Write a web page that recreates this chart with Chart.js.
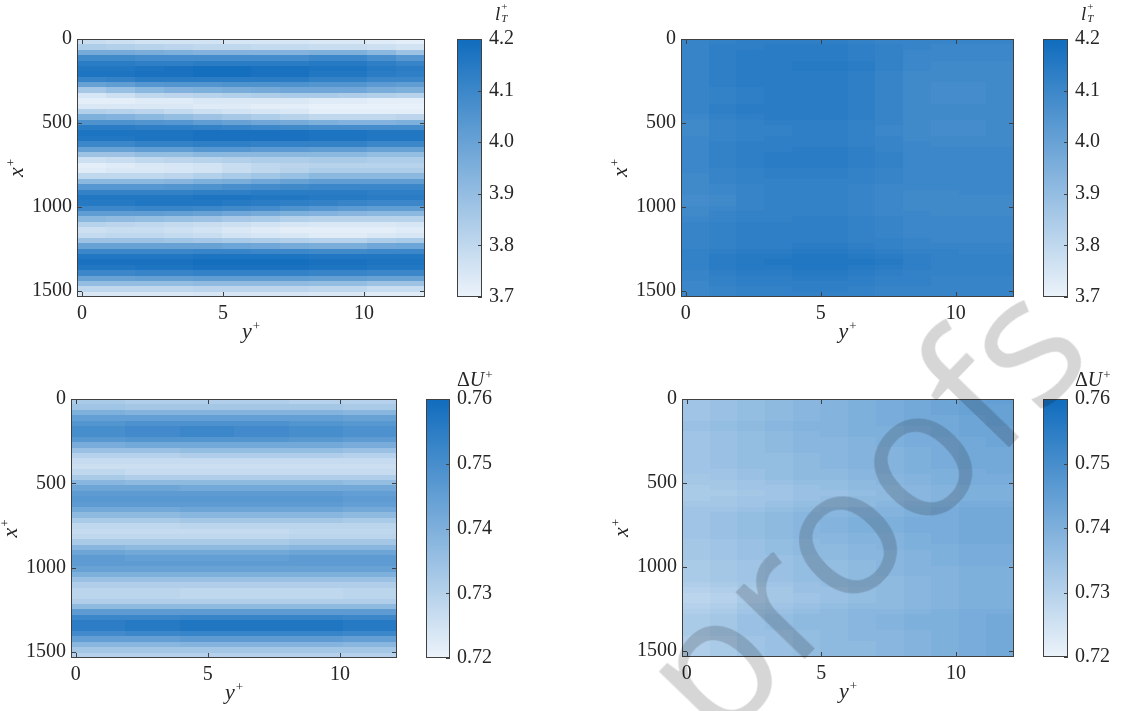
<!DOCTYPE html>
<html>
<head>
<meta charset="utf-8">
<script src="https://cdn.jsdelivr.net/npm/chart.js@4.4.0/dist/chart.umd.min.js"></script>
<style>
  body { margin: 0; background: #fff; width: 1147px; height: 711px; overflow: hidden; position: relative; }
  canvas { position: absolute; }
  #mark {
    position: absolute; left: 603px; top: 639px;
    transform-origin: 0 0; transform: rotate(-46deg);
    font-family: "Open Sans"; font-size: 180px; line-height: 1;
    color: rgba(0, 0, 0, 0.16); white-space: nowrap; pointer-events: none;
  }
</style>
</head>
<body>
<canvas id="heatA"></canvas><canvas id="barA"></canvas>
<canvas id="heatB"></canvas><canvas id="barB"></canvas>
<canvas id="heatC"></canvas><canvas id="barC"></canvas>
<canvas id="heatD"></canvas><canvas id="barD"></canvas>
<div id="mark">proofs</div>
<script>
// grid: cell centres along x+ (rows, top to bottom) and y+ (columns)
const xPlusRows = [16, 48, 80, 112, 144, 176, 208, 240, 272, 304, 336, 368, 400, 432, 464, 496,
    528, 560, 592, 624, 656, 688, 720, 752, 784, 816, 848, 880, 912, 944, 976, 1008,
    1040, 1072, 1104, 1136, 1168, 1200, 1232, 1264, 1296, 1328, 1360, 1392, 1424, 1456, 1488, 1520];
const yPlusCols = [0.33, 1.36, 2.39, 3.42, 4.45, 5.48, 6.51, 7.54, 8.57, 9.60, 10.62, 11.65];
const yPlusRange = [-0.18, 12.16];
const xPlusRange = [0, 1536];
const yPlusTicks = [0, 5, 10];
const xPlusTicks = [0, 500, 1000, 1500];
const ltTicks = [3.7, 3.8, 3.9, 4.0, 4.1, 4.2];
const duTicks = [0.72, 0.73, 0.74, 0.75, 0.76];

// l_T^+ , left case (strong streaks)
const ltCaseA = [
    [3.78, 3.77, 3.76, 3.76, 3.76, 3.75, 3.75, 3.75, 3.74, 3.74, 3.73, 3.72],
    [3.84, 3.83, 3.82, 3.81, 3.80, 3.80, 3.79, 3.79, 3.78, 3.78, 3.77, 3.76],
    [3.97, 3.97, 3.96, 3.95, 3.94, 3.94, 3.94, 3.94, 3.95, 3.95, 3.92, 3.88],
    [4.09, 4.09, 4.08, 4.08, 4.08, 4.08, 4.08, 4.08, 4.10, 4.10, 4.07, 4.04],
    [4.14, 4.14, 4.13, 4.13, 4.14, 4.14, 4.14, 4.14, 4.15, 4.15, 4.13, 4.11],
    [4.16, 4.16, 4.17, 4.18, 4.19, 4.19, 4.18, 4.18, 4.17, 4.17, 4.15, 4.14],
    [4.17, 4.17, 4.18, 4.18, 4.19, 4.19, 4.18, 4.18, 4.16, 4.16, 4.14, 4.13],
    [4.11, 4.12, 4.14, 4.14, 4.14, 4.14, 4.14, 4.14, 4.12, 4.12, 4.10, 4.10],
    [4.00, 4.02, 4.04, 4.05, 4.05, 4.06, 4.06, 4.06, 4.05, 4.05, 4.03, 4.02],
    [3.86, 3.89, 3.92, 3.94, 3.95, 3.96, 3.97, 3.98, 3.98, 3.98, 3.96, 3.95],
    [3.75, 3.77, 3.80, 3.81, 3.82, 3.83, 3.84, 3.85, 3.85, 3.84, 3.83, 3.82],
    [3.72, 3.72, 3.73, 3.73, 3.74, 3.74, 3.74, 3.74, 3.73, 3.73, 3.72, 3.72],
    [3.74, 3.74, 3.74, 3.74, 3.73, 3.73, 3.72, 3.72, 3.71, 3.71, 3.71, 3.71],
    [3.83, 3.82, 3.81, 3.79, 3.77, 3.76, 3.75, 3.74, 3.72, 3.72, 3.72, 3.72],
    [3.95, 3.94, 3.92, 3.90, 3.88, 3.86, 3.84, 3.82, 3.80, 3.80, 3.80, 3.81],
    [4.06, 4.06, 4.05, 4.04, 4.02, 4.00, 3.98, 3.97, 3.95, 3.94, 3.94, 3.95],
    [4.14, 4.14, 4.13, 4.13, 4.12, 4.11, 4.10, 4.09, 4.08, 4.08, 4.08, 4.08],
    [4.17, 4.17, 4.17, 4.17, 4.18, 4.18, 4.18, 4.18, 4.17, 4.17, 4.16, 4.16],
    [4.16, 4.16, 4.17, 4.17, 4.18, 4.18, 4.18, 4.18, 4.17, 4.17, 4.16, 4.16],
    [4.10, 4.10, 4.12, 4.12, 4.13, 4.13, 4.12, 4.12, 4.12, 4.12, 4.10, 4.10],
    [4.00, 4.00, 4.02, 4.02, 4.04, 4.04, 4.03, 4.03, 4.02, 4.02, 4.00, 4.00],
    [3.88, 3.88, 3.90, 3.90, 3.92, 3.92, 3.92, 3.92, 3.92, 3.92, 3.90, 3.90],
    [3.77, 3.78, 3.80, 3.81, 3.82, 3.83, 3.84, 3.84, 3.85, 3.85, 3.84, 3.84],
    [3.72, 3.73, 3.74, 3.75, 3.76, 3.78, 3.80, 3.81, 3.82, 3.82, 3.82, 3.82],
    [3.73, 3.74, 3.74, 3.75, 3.76, 3.78, 3.80, 3.82, 3.84, 3.84, 3.84, 3.84],
    [3.80, 3.80, 3.80, 3.81, 3.83, 3.85, 3.87, 3.89, 3.92, 3.92, 3.92, 3.92],
    [3.92, 3.92, 3.92, 3.93, 3.95, 3.96, 3.98, 4.00, 4.02, 4.02, 4.02, 4.02],
    [4.04, 4.04, 4.04, 4.05, 4.06, 4.07, 4.08, 4.09, 4.10, 4.10, 4.10, 4.10],
    [4.12, 4.12, 4.12, 4.12, 4.13, 4.13, 4.14, 4.14, 4.14, 4.14, 4.13, 4.13],
    [4.16, 4.16, 4.16, 4.16, 4.17, 4.17, 4.16, 4.16, 4.15, 4.15, 4.14, 4.14],
    [4.15, 4.15, 4.16, 4.16, 4.16, 4.15, 4.14, 4.13, 4.12, 4.11, 4.10, 4.10],
    [4.10, 4.10, 4.11, 4.11, 4.10, 4.09, 4.08, 4.06, 4.04, 4.03, 4.02, 4.02],
    [4.02, 4.02, 4.02, 4.01, 4.00, 3.98, 3.97, 3.95, 3.94, 3.93, 3.92, 3.92],
    [3.92, 3.91, 3.90, 3.89, 3.88, 3.86, 3.85, 3.83, 3.82, 3.82, 3.82, 3.82],
    [3.82, 3.81, 3.80, 3.79, 3.78, 3.77, 3.76, 3.75, 3.74, 3.74, 3.74, 3.75],
    [3.77, 3.78, 3.78, 3.77, 3.76, 3.74, 3.73, 3.72, 3.72, 3.72, 3.72, 3.73],
    [3.79, 3.80, 3.80, 3.79, 3.78, 3.76, 3.75, 3.74, 3.73, 3.73, 3.74, 3.75],
    [3.88, 3.88, 3.88, 3.87, 3.86, 3.85, 3.84, 3.83, 3.82, 3.82, 3.84, 3.85],
    [4.00, 4.00, 4.00, 4.00, 4.00, 3.99, 3.98, 3.97, 3.96, 3.96, 3.98, 3.99],
    [4.10, 4.10, 4.10, 4.10, 4.11, 4.11, 4.10, 4.10, 4.09, 4.09, 4.10, 4.10],
    [4.16, 4.16, 4.16, 4.16, 4.17, 4.17, 4.17, 4.17, 4.16, 4.16, 4.16, 4.16],
    [4.18, 4.18, 4.18, 4.18, 4.19, 4.19, 4.19, 4.19, 4.18, 4.18, 4.17, 4.17],
    [4.16, 4.16, 4.17, 4.17, 4.18, 4.18, 4.18, 4.18, 4.17, 4.17, 4.16, 4.16],
    [4.10, 4.10, 4.11, 4.11, 4.12, 4.12, 4.12, 4.12, 4.11, 4.11, 4.10, 4.10],
    [4.00, 4.00, 4.01, 4.01, 4.02, 4.02, 4.02, 4.02, 4.01, 4.01, 4.00, 4.00],
    [3.90, 3.90, 3.90, 3.90, 3.91, 3.91, 3.91, 3.91, 3.90, 3.90, 3.88, 3.88],
    [3.80, 3.80, 3.80, 3.80, 3.81, 3.81, 3.81, 3.81, 3.80, 3.80, 3.78, 3.78],
    [3.74, 3.74, 3.74, 3.74, 3.75, 3.75, 3.75, 3.75, 3.74, 3.74, 3.73, 3.73]
];

// l_T^+ , right case (nearly uniform)
const ltCaseB = [
    [4.11, 4.12, 4.13, 4.13, 4.13, 4.13, 4.12, 4.11, 4.11, 4.11, 4.11, 4.11],
    [4.11, 4.13, 4.13, 4.14, 4.14, 4.14, 4.13, 4.12, 4.11, 4.10, 4.10, 4.10],
    [4.11, 4.13, 4.14, 4.14, 4.14, 4.14, 4.13, 4.12, 4.10, 4.10, 4.10, 4.10],
    [4.11, 4.13, 4.14, 4.14, 4.14, 4.14, 4.13, 4.12, 4.10, 4.10, 4.10, 4.10],
    [4.11, 4.13, 4.14, 4.14, 4.15, 4.15, 4.14, 4.12, 4.10, 4.09, 4.09, 4.09],
    [4.11, 4.13, 4.14, 4.14, 4.15, 4.15, 4.14, 4.12, 4.10, 4.09, 4.09, 4.09],
    [4.11, 4.13, 4.14, 4.14, 4.14, 4.14, 4.13, 4.11, 4.09, 4.09, 4.09, 4.09],
    [4.11, 4.13, 4.14, 4.14, 4.14, 4.14, 4.13, 4.11, 4.09, 4.09, 4.09, 4.09],
    [4.11, 4.13, 4.14, 4.14, 4.14, 4.14, 4.13, 4.11, 4.09, 4.08, 4.08, 4.09],
    [4.11, 4.12, 4.13, 4.14, 4.14, 4.14, 4.13, 4.11, 4.09, 4.08, 4.08, 4.09],
    [4.11, 4.12, 4.13, 4.14, 4.14, 4.14, 4.13, 4.11, 4.09, 4.08, 4.08, 4.09],
    [4.11, 4.12, 4.13, 4.14, 4.14, 4.14, 4.13, 4.11, 4.09, 4.08, 4.08, 4.09],
    [4.11, 4.13, 4.14, 4.14, 4.14, 4.14, 4.13, 4.11, 4.09, 4.09, 4.09, 4.09],
    [4.11, 4.13, 4.14, 4.14, 4.14, 4.14, 4.13, 4.11, 4.09, 4.09, 4.09, 4.09],
    [4.10, 4.12, 4.13, 4.14, 4.14, 4.14, 4.13, 4.11, 4.09, 4.09, 4.09, 4.09],
    [4.09, 4.11, 4.12, 4.13, 4.13, 4.13, 4.12, 4.11, 4.09, 4.08, 4.08, 4.09],
    [4.09, 4.11, 4.12, 4.12, 4.13, 4.13, 4.12, 4.10, 4.09, 4.08, 4.08, 4.09],
    [4.09, 4.11, 4.12, 4.12, 4.13, 4.13, 4.12, 4.10, 4.09, 4.08, 4.08, 4.09],
    [4.10, 4.11, 4.12, 4.13, 4.13, 4.13, 4.12, 4.11, 4.09, 4.09, 4.09, 4.09],
    [4.10, 4.12, 4.13, 4.13, 4.13, 4.13, 4.12, 4.11, 4.10, 4.09, 4.09, 4.09],
    [4.10, 4.12, 4.13, 4.13, 4.14, 4.14, 4.13, 4.11, 4.10, 4.10, 4.10, 4.10],
    [4.10, 4.12, 4.13, 4.14, 4.14, 4.14, 4.13, 4.12, 4.10, 4.10, 4.10, 4.10],
    [4.10, 4.12, 4.13, 4.14, 4.14, 4.14, 4.13, 4.12, 4.10, 4.10, 4.10, 4.10],
    [4.10, 4.12, 4.13, 4.14, 4.14, 4.14, 4.13, 4.12, 4.10, 4.10, 4.10, 4.10],
    [4.10, 4.11, 4.12, 4.13, 4.13, 4.13, 4.12, 4.11, 4.10, 4.10, 4.10, 4.10],
    [4.09, 4.11, 4.12, 4.13, 4.13, 4.13, 4.12, 4.11, 4.10, 4.10, 4.10, 4.10],
    [4.09, 4.11, 4.12, 4.12, 4.12, 4.12, 4.12, 4.11, 4.10, 4.10, 4.10, 4.10],
    [4.09, 4.10, 4.11, 4.12, 4.12, 4.12, 4.11, 4.10, 4.10, 4.10, 4.10, 4.10],
    [4.09, 4.10, 4.11, 4.12, 4.12, 4.12, 4.11, 4.10, 4.09, 4.09, 4.10, 4.10],
    [4.08, 4.09, 4.11, 4.12, 4.12, 4.12, 4.11, 4.10, 4.09, 4.09, 4.09, 4.09],
    [4.08, 4.09, 4.11, 4.12, 4.12, 4.12, 4.11, 4.10, 4.09, 4.09, 4.09, 4.09],
    [4.09, 4.10, 4.11, 4.12, 4.12, 4.12, 4.11, 4.10, 4.09, 4.09, 4.09, 4.09],
    [4.09, 4.11, 4.12, 4.12, 4.12, 4.12, 4.11, 4.10, 4.10, 4.09, 4.09, 4.09],
    [4.10, 4.11, 4.12, 4.12, 4.13, 4.13, 4.12, 4.11, 4.10, 4.10, 4.10, 4.10],
    [4.11, 4.12, 4.13, 4.13, 4.13, 4.13, 4.12, 4.11, 4.10, 4.10, 4.10, 4.10],
    [4.11, 4.12, 4.13, 4.13, 4.13, 4.13, 4.12, 4.11, 4.10, 4.10, 4.10, 4.10],
    [4.11, 4.12, 4.13, 4.13, 4.13, 4.13, 4.12, 4.11, 4.10, 4.10, 4.10, 4.10],
    [4.11, 4.12, 4.13, 4.13, 4.13, 4.13, 4.12, 4.12, 4.11, 4.10, 4.10, 4.10],
    [4.11, 4.12, 4.13, 4.13, 4.14, 4.14, 4.13, 4.12, 4.11, 4.11, 4.11, 4.11],
    [4.12, 4.13, 4.14, 4.14, 4.15, 4.15, 4.14, 4.13, 4.12, 4.12, 4.11, 4.11],
    [4.12, 4.14, 4.15, 4.15, 4.16, 4.16, 4.15, 4.14, 4.13, 4.12, 4.12, 4.12],
    [4.12, 4.14, 4.15, 4.16, 4.16, 4.16, 4.16, 4.15, 4.13, 4.12, 4.12, 4.12],
    [4.12, 4.14, 4.15, 4.15, 4.16, 4.16, 4.15, 4.14, 4.13, 4.12, 4.12, 4.12],
    [4.11, 4.13, 4.14, 4.14, 4.15, 4.15, 4.14, 4.13, 4.12, 4.12, 4.12, 4.12],
    [4.11, 4.12, 4.13, 4.13, 4.14, 4.14, 4.13, 4.12, 4.12, 4.11, 4.11, 4.11],
    [4.10, 4.12, 4.13, 4.13, 4.13, 4.13, 4.13, 4.12, 4.12, 4.11, 4.11, 4.11],
    [4.10, 4.11, 4.12, 4.12, 4.13, 4.13, 4.12, 4.11, 4.11, 4.11, 4.11, 4.11],
    [4.10, 4.11, 4.12, 4.12, 4.12, 4.12, 4.12, 4.11, 4.11, 4.11, 4.11, 4.11]
];

// Delta U^+ , left case
const duCaseA = [
    [0.732, 0.732, 0.731, 0.731, 0.731, 0.731, 0.731, 0.731, 0.730, 0.730, 0.730, 0.730],
    [0.734, 0.734, 0.733, 0.733, 0.733, 0.733, 0.733, 0.733, 0.733, 0.733, 0.732, 0.732],
    [0.740, 0.740, 0.739, 0.739, 0.739, 0.739, 0.739, 0.739, 0.739, 0.739, 0.738, 0.738],
    [0.745, 0.745, 0.745, 0.745, 0.745, 0.745, 0.745, 0.745, 0.745, 0.745, 0.744, 0.744],
    [0.748, 0.748, 0.749, 0.749, 0.749, 0.749, 0.749, 0.749, 0.748, 0.748, 0.747, 0.747],
    [0.750, 0.750, 0.751, 0.751, 0.752, 0.752, 0.751, 0.751, 0.750, 0.750, 0.749, 0.749],
    [0.750, 0.750, 0.751, 0.751, 0.752, 0.752, 0.751, 0.751, 0.750, 0.750, 0.749, 0.749],
    [0.747, 0.747, 0.748, 0.748, 0.748, 0.748, 0.748, 0.748, 0.747, 0.747, 0.746, 0.746],
    [0.741, 0.741, 0.742, 0.742, 0.742, 0.742, 0.742, 0.742, 0.742, 0.742, 0.741, 0.741],
    [0.735, 0.735, 0.735, 0.735, 0.736, 0.736, 0.736, 0.736, 0.736, 0.736, 0.735, 0.735],
    [0.730, 0.730, 0.730, 0.730, 0.731, 0.731, 0.731, 0.731, 0.731, 0.731, 0.730, 0.730],
    [0.727, 0.727, 0.727, 0.727, 0.727, 0.727, 0.727, 0.727, 0.727, 0.727, 0.727, 0.727],
    [0.726, 0.726, 0.726, 0.726, 0.726, 0.726, 0.726, 0.726, 0.726, 0.726, 0.726, 0.726],
    [0.728, 0.728, 0.727, 0.727, 0.727, 0.727, 0.727, 0.727, 0.727, 0.727, 0.727, 0.727],
    [0.732, 0.732, 0.731, 0.731, 0.731, 0.731, 0.731, 0.731, 0.731, 0.731, 0.731, 0.731],
    [0.738, 0.738, 0.737, 0.737, 0.737, 0.737, 0.737, 0.737, 0.737, 0.737, 0.736, 0.736],
    [0.743, 0.743, 0.743, 0.743, 0.742, 0.742, 0.742, 0.742, 0.742, 0.742, 0.742, 0.742],
    [0.746, 0.746, 0.746, 0.746, 0.746, 0.746, 0.746, 0.746, 0.746, 0.746, 0.745, 0.745],
    [0.747, 0.747, 0.747, 0.747, 0.747, 0.747, 0.747, 0.747, 0.747, 0.747, 0.746, 0.746],
    [0.746, 0.746, 0.746, 0.746, 0.746, 0.746, 0.746, 0.746, 0.746, 0.746, 0.745, 0.745],
    [0.742, 0.742, 0.742, 0.742, 0.743, 0.743, 0.743, 0.743, 0.743, 0.743, 0.742, 0.742],
    [0.737, 0.737, 0.737, 0.737, 0.738, 0.738, 0.738, 0.738, 0.738, 0.738, 0.737, 0.737],
    [0.732, 0.732, 0.732, 0.732, 0.733, 0.733, 0.733, 0.733, 0.733, 0.733, 0.732, 0.732],
    [0.728, 0.728, 0.728, 0.728, 0.729, 0.729, 0.729, 0.729, 0.729, 0.729, 0.729, 0.729],
    [0.727, 0.727, 0.727, 0.727, 0.727, 0.727, 0.727, 0.727, 0.728, 0.728, 0.728, 0.728],
    [0.728, 0.728, 0.728, 0.728, 0.728, 0.728, 0.728, 0.728, 0.729, 0.729, 0.729, 0.729],
    [0.732, 0.732, 0.732, 0.732, 0.732, 0.732, 0.732, 0.732, 0.733, 0.733, 0.733, 0.733],
    [0.738, 0.738, 0.737, 0.737, 0.737, 0.737, 0.737, 0.737, 0.738, 0.738, 0.738, 0.738],
    [0.743, 0.743, 0.742, 0.742, 0.742, 0.742, 0.742, 0.742, 0.743, 0.743, 0.743, 0.743],
    [0.746, 0.746, 0.745, 0.745, 0.745, 0.745, 0.745, 0.745, 0.746, 0.746, 0.746, 0.746],
    [0.746, 0.746, 0.746, 0.746, 0.746, 0.746, 0.746, 0.746, 0.746, 0.746, 0.746, 0.746],
    [0.744, 0.744, 0.744, 0.744, 0.744, 0.744, 0.744, 0.744, 0.744, 0.744, 0.744, 0.744],
    [0.740, 0.740, 0.740, 0.740, 0.740, 0.740, 0.740, 0.740, 0.740, 0.740, 0.740, 0.740],
    [0.735, 0.735, 0.735, 0.735, 0.735, 0.735, 0.735, 0.735, 0.735, 0.735, 0.735, 0.735],
    [0.731, 0.731, 0.731, 0.731, 0.731, 0.731, 0.731, 0.731, 0.731, 0.731, 0.731, 0.731],
    [0.729, 0.729, 0.729, 0.729, 0.728, 0.728, 0.728, 0.728, 0.728, 0.728, 0.729, 0.729],
    [0.729, 0.729, 0.729, 0.729, 0.728, 0.728, 0.728, 0.728, 0.728, 0.728, 0.729, 0.729],
    [0.731, 0.731, 0.731, 0.731, 0.731, 0.731, 0.731, 0.731, 0.731, 0.731, 0.731, 0.731],
    [0.737, 0.737, 0.737, 0.737, 0.737, 0.737, 0.737, 0.737, 0.737, 0.737, 0.737, 0.737],
    [0.746, 0.746, 0.746, 0.746, 0.746, 0.746, 0.746, 0.746, 0.746, 0.746, 0.746, 0.746],
    [0.752, 0.752, 0.752, 0.752, 0.753, 0.753, 0.753, 0.753, 0.753, 0.753, 0.752, 0.752],
    [0.755, 0.755, 0.756, 0.756, 0.757, 0.757, 0.757, 0.757, 0.757, 0.757, 0.756, 0.756],
    [0.755, 0.755, 0.756, 0.756, 0.757, 0.757, 0.757, 0.757, 0.757, 0.757, 0.756, 0.756],
    [0.751, 0.751, 0.752, 0.752, 0.753, 0.753, 0.753, 0.753, 0.753, 0.753, 0.752, 0.752],
    [0.745, 0.745, 0.745, 0.745, 0.746, 0.746, 0.746, 0.746, 0.746, 0.746, 0.745, 0.745],
    [0.738, 0.738, 0.738, 0.738, 0.739, 0.739, 0.739, 0.739, 0.739, 0.739, 0.738, 0.738],
    [0.733, 0.733, 0.733, 0.733, 0.733, 0.733, 0.733, 0.733, 0.733, 0.733, 0.733, 0.733],
    [0.730, 0.730, 0.730, 0.730, 0.730, 0.730, 0.730, 0.730, 0.730, 0.730, 0.730, 0.730]
];

// Delta U^+ , right case
const duCaseB = [
    [0.734, 0.735, 0.736, 0.737, 0.738, 0.739, 0.740, 0.741, 0.742, 0.743, 0.744, 0.745],
    [0.734, 0.735, 0.736, 0.737, 0.738, 0.739, 0.740, 0.741, 0.742, 0.743, 0.744, 0.744],
    [0.734, 0.735, 0.736, 0.737, 0.738, 0.739, 0.740, 0.741, 0.742, 0.743, 0.744, 0.744],
    [0.734, 0.735, 0.736, 0.737, 0.738, 0.739, 0.740, 0.741, 0.742, 0.742, 0.743, 0.744],
    [0.735, 0.736, 0.737, 0.738, 0.739, 0.739, 0.740, 0.741, 0.742, 0.742, 0.743, 0.744],
    [0.735, 0.736, 0.737, 0.738, 0.739, 0.739, 0.740, 0.740, 0.741, 0.742, 0.743, 0.743],
    [0.734, 0.735, 0.736, 0.737, 0.738, 0.739, 0.740, 0.740, 0.741, 0.742, 0.743, 0.743],
    [0.734, 0.735, 0.736, 0.737, 0.738, 0.738, 0.739, 0.740, 0.741, 0.741, 0.742, 0.743],
    [0.734, 0.735, 0.736, 0.737, 0.738, 0.738, 0.739, 0.740, 0.741, 0.741, 0.742, 0.743],
    [0.734, 0.735, 0.736, 0.737, 0.738, 0.738, 0.739, 0.739, 0.740, 0.741, 0.742, 0.742],
    [0.734, 0.735, 0.736, 0.736, 0.737, 0.738, 0.739, 0.739, 0.740, 0.741, 0.742, 0.742],
    [0.734, 0.735, 0.736, 0.736, 0.737, 0.738, 0.739, 0.739, 0.740, 0.741, 0.742, 0.742],
    [0.734, 0.735, 0.736, 0.736, 0.737, 0.738, 0.739, 0.739, 0.740, 0.741, 0.742, 0.742],
    [0.734, 0.734, 0.735, 0.736, 0.737, 0.737, 0.738, 0.739, 0.740, 0.740, 0.741, 0.742],
    [0.733, 0.734, 0.735, 0.736, 0.737, 0.737, 0.738, 0.738, 0.739, 0.740, 0.741, 0.741],
    [0.733, 0.733, 0.734, 0.735, 0.736, 0.736, 0.737, 0.738, 0.739, 0.740, 0.741, 0.741],
    [0.732, 0.733, 0.734, 0.734, 0.735, 0.736, 0.737, 0.737, 0.738, 0.739, 0.740, 0.740],
    [0.732, 0.732, 0.733, 0.734, 0.735, 0.735, 0.736, 0.737, 0.738, 0.739, 0.740, 0.740],
    [0.732, 0.733, 0.734, 0.734, 0.735, 0.736, 0.737, 0.737, 0.738, 0.739, 0.740, 0.740],
    [0.733, 0.733, 0.734, 0.735, 0.736, 0.736, 0.737, 0.738, 0.739, 0.740, 0.741, 0.741],
    [0.734, 0.734, 0.735, 0.736, 0.737, 0.738, 0.739, 0.739, 0.740, 0.741, 0.742, 0.742],
    [0.734, 0.735, 0.736, 0.737, 0.738, 0.738, 0.739, 0.739, 0.740, 0.741, 0.742, 0.742],
    [0.734, 0.735, 0.736, 0.737, 0.738, 0.739, 0.740, 0.740, 0.741, 0.741, 0.742, 0.742],
    [0.734, 0.735, 0.736, 0.737, 0.738, 0.739, 0.740, 0.740, 0.741, 0.741, 0.742, 0.742],
    [0.734, 0.735, 0.736, 0.737, 0.738, 0.739, 0.740, 0.740, 0.741, 0.741, 0.742, 0.742],
    [0.734, 0.735, 0.736, 0.737, 0.738, 0.738, 0.739, 0.739, 0.740, 0.741, 0.742, 0.742],
    [0.733, 0.734, 0.735, 0.736, 0.737, 0.738, 0.739, 0.739, 0.740, 0.741, 0.742, 0.742],
    [0.733, 0.734, 0.735, 0.736, 0.737, 0.737, 0.738, 0.739, 0.740, 0.740, 0.741, 0.741],
    [0.733, 0.734, 0.735, 0.736, 0.737, 0.737, 0.738, 0.738, 0.739, 0.740, 0.741, 0.741],
    [0.733, 0.734, 0.735, 0.735, 0.736, 0.737, 0.738, 0.738, 0.739, 0.740, 0.741, 0.741],
    [0.732, 0.733, 0.734, 0.735, 0.736, 0.736, 0.737, 0.738, 0.739, 0.740, 0.741, 0.741],
    [0.732, 0.733, 0.734, 0.735, 0.736, 0.736, 0.737, 0.738, 0.739, 0.739, 0.740, 0.740],
    [0.732, 0.733, 0.734, 0.735, 0.736, 0.736, 0.737, 0.738, 0.739, 0.739, 0.740, 0.740],
    [0.732, 0.733, 0.734, 0.735, 0.736, 0.736, 0.737, 0.737, 0.738, 0.739, 0.740, 0.740],
    [0.731, 0.732, 0.733, 0.734, 0.735, 0.736, 0.737, 0.737, 0.738, 0.739, 0.740, 0.740],
    [0.730, 0.731, 0.732, 0.733, 0.735, 0.735, 0.736, 0.737, 0.738, 0.739, 0.740, 0.740],
    [0.729, 0.730, 0.732, 0.733, 0.734, 0.735, 0.736, 0.737, 0.738, 0.739, 0.740, 0.740],
    [0.729, 0.730, 0.732, 0.733, 0.734, 0.735, 0.736, 0.737, 0.738, 0.739, 0.740, 0.740],
    [0.730, 0.731, 0.733, 0.734, 0.735, 0.736, 0.737, 0.737, 0.738, 0.739, 0.740, 0.740],
    [0.731, 0.732, 0.734, 0.735, 0.736, 0.737, 0.738, 0.738, 0.739, 0.740, 0.741, 0.741],
    [0.732, 0.733, 0.735, 0.736, 0.737, 0.737, 0.738, 0.739, 0.740, 0.740, 0.741, 0.742],
    [0.732, 0.733, 0.735, 0.736, 0.737, 0.737, 0.738, 0.739, 0.740, 0.740, 0.741, 0.742],
    [0.732, 0.733, 0.735, 0.736, 0.737, 0.737, 0.738, 0.739, 0.740, 0.740, 0.741, 0.742],
    [0.732, 0.733, 0.735, 0.735, 0.736, 0.737, 0.738, 0.738, 0.739, 0.740, 0.741, 0.742],
    [0.731, 0.732, 0.734, 0.735, 0.736, 0.737, 0.738, 0.738, 0.739, 0.740, 0.741, 0.742],
    [0.731, 0.732, 0.734, 0.735, 0.736, 0.737, 0.737, 0.738, 0.739, 0.740, 0.741, 0.742],
    [0.731, 0.732, 0.734, 0.735, 0.736, 0.737, 0.737, 0.738, 0.739, 0.740, 0.741, 0.742],
    [0.731, 0.732, 0.734, 0.735, 0.736, 0.737, 0.737, 0.738, 0.739, 0.740, 0.741, 0.742]
];

const LIGHT = [236, 243, 250];
const DARK = [16, 108, 189];
const INK = '#262626';
const FRAME = '#404040';
const SERIF = '"Liberation Serif", "Times New Roman", serif';
const TICK_FONT = { family: SERIF, size: 20 };

Chart.defaults.font.family = SERIF;
Chart.defaults.font.size = 20;
Chart.defaults.color = INK;

function colorFor(v, lo, hi) {
    let f = (v - lo) / (hi - lo);
    f = Math.max(0, Math.min(1, f));
    const c = LIGHT.map((l, i) => Math.round(l + f * (DARK[i] - l)));
    return 'rgb(' + c.join(',') + ')';
}

// base glyph + small superscript, centred on (0,0) with baseline at 0
function drawSupLabel(ctx, base, sup) {
    ctx.font = 'italic 22px ' + SERIF;
    const wb = ctx.measureText(base).width;
    ctx.font = '13px ' + SERIF;
    const ws = ctx.measureText(sup).width;
    const x0 = -(wb + ws + 1) / 2;
    ctx.textAlign = 'left';
    ctx.textBaseline = 'alphabetic';
    ctx.font = 'italic 22px ' + SERIF;
    ctx.fillText(base, x0, 0);
    ctx.font = '13px ' + SERIF;
    ctx.fillText(sup, x0 + wb + 1, -8);
}

const heatPlugin = {
    id: 'heat',
    beforeDatasetsDraw(chart, args, opts) {
        const ctx = chart.ctx, a = chart.chartArea;
        const xs = chart.scales.x, ys = chart.scales.y;
        const cells = chart.data.datasets[0].data;
        ctx.save();
        ctx.beginPath();
        ctx.rect(a.left, a.top, a.right - a.left, a.bottom - a.top);
        ctx.clip();
        cells.forEach(c => {
            const x0 = Math.round(xs.getPixelForValue(c.x - opts.cellW / 2));
            const x1 = Math.round(xs.getPixelForValue(c.x + opts.cellW / 2));
            const y0 = Math.round(ys.getPixelForValue(c.y - opts.cellH / 2));
            const y1 = Math.round(ys.getPixelForValue(c.y + opts.cellH / 2));
            ctx.fillStyle = colorFor(c.v, opts.lo, opts.hi);
            ctx.fillRect(Math.min(x0, x1), Math.min(y0, y1), Math.abs(x1 - x0), Math.abs(y1 - y0));
        });
        ctx.restore();
    },
    afterDraw(chart) {
        const ctx = chart.ctx, a = chart.chartArea;
        const xs = chart.scales.x, ys = chart.scales.y;
        ctx.save();
        ctx.strokeStyle = FRAME;
        ctx.lineWidth = 1;
        ctx.strokeRect(a.left + 0.5, a.top + 0.5, a.right - a.left - 1, a.bottom - a.top - 1);
        ctx.beginPath();
        yPlusTicks.forEach(v => {
            const px = Math.round(xs.getPixelForValue(v)) + 0.5;
            ctx.moveTo(px, a.bottom); ctx.lineTo(px, a.bottom - 5);
            ctx.moveTo(px, a.top); ctx.lineTo(px, a.top + 5);
        });
        xPlusTicks.forEach(v => {
            const py = Math.round(ys.getPixelForValue(v)) + 0.5;
            ctx.moveTo(a.left, py); ctx.lineTo(a.left + 5, py);
            ctx.moveTo(a.right, py); ctx.lineTo(a.right - 5, py);
        });
        ctx.stroke();
        ctx.fillStyle = INK;
        // y+ below, x+ rotated on the left
        ctx.save();
        ctx.translate((a.left + a.right) / 2, a.bottom + 41);
        drawSupLabel(ctx, 'y', '+');
        ctx.restore();
        ctx.save();
        ctx.translate(a.left - 54, (a.top + a.bottom) / 2);
        ctx.rotate(-Math.PI / 2);
        drawSupLabel(ctx, 'x', '+');
        ctx.restore();
        ctx.restore();
    }
};

const barPlugin = {
    id: 'cbar',
    beforeDatasetsDraw(chart, args, opts) {
        const ctx = chart.ctx, a = chart.chartArea, ys = chart.scales.y;
        const g = ctx.createLinearGradient(0, ys.getPixelForValue(opts.lo), 0, ys.getPixelForValue(opts.hi));
        g.addColorStop(0, colorFor(opts.lo, opts.lo, opts.hi));
        g.addColorStop(1, colorFor(opts.hi, opts.lo, opts.hi));
        ctx.save();
        ctx.fillStyle = g;
        ctx.fillRect(a.left, a.top, a.right - a.left, a.bottom - a.top);
        ctx.restore();
    },
    afterDraw(chart, args, opts) {
        const ctx = chart.ctx, a = chart.chartArea, ys = chart.scales.y;
        ctx.save();
        ctx.strokeStyle = FRAME;
        ctx.lineWidth = 1;
        ctx.strokeRect(a.left + 0.5, a.top + 0.5, a.right - a.left - 1, a.bottom - a.top - 1);
        ctx.beginPath();
        opts.ticks.forEach(v => {
            const py = Math.round(ys.getPixelForValue(v)) + 0.5;
            ctx.moveTo(a.right, py); ctx.lineTo(a.right - 4, py);
        });
        ctx.stroke();
        ctx.fillStyle = INK;
        ctx.textAlign = 'left';
        ctx.textBaseline = 'alphabetic';
        if (opts.title === 'lt') {
            const x = a.right + 13, y = a.top - 19;
            ctx.font = 'italic 19px ' + SERIF;
            ctx.fillText('l', x, y);
            const w = ctx.measureText('l').width;
            ctx.font = 'italic 11px ' + SERIF;
            ctx.fillText('T', x + w + 1, y + 2);
            ctx.font = '11px ' + SERIF;
            ctx.fillText('+', x + w + 1, y - 10);
        } else {
            const x = a.right + 7, y = a.top - 13;
            ctx.font = '20px ' + SERIF;
            ctx.fillText('\u0394', x, y);
            let w = ctx.measureText('\u0394').width;
            ctx.font = 'italic 20px ' + SERIF;
            ctx.fillText('U', x + w, y);
            w += ctx.measureText('U').width;
            ctx.font = '13px ' + SERIF;
            ctx.fillText('+', x + w + 1, y - 7);
        }
        ctx.restore();
    }
};

const panels = [
    { heat: 'heatA', bar: 'barA', grid: ltCaseA, lo: 3.7, hi: 4.2, ticks: ltTicks, dec: 1, title: 'lt',
      L: 77, T: 39, R: 425, B: 297, cL: 457, cR: 482 },
    { heat: 'heatB', bar: 'barB', grid: ltCaseB, lo: 3.7, hi: 4.2, ticks: ltTicks, dec: 1, title: 'lt',
      L: 681, T: 39, R: 1014, B: 297, cL: 1043, cR: 1068 },
    { heat: 'heatC', bar: 'barC', grid: duCaseA, lo: 0.72, hi: 0.76, ticks: duTicks, dec: 2, title: 'du',
      L: 71, T: 399, R: 397, B: 658, cL: 426, cR: 450 },
    { heat: 'heatD', bar: 'barD', grid: duCaseB, lo: 0.72, hi: 0.76, ticks: duTicks, dec: 2, title: 'du',
      L: 682, T: 399, R: 1014, B: 657, cL: 1043, cR: 1068 }
];

function place(canvas, left, top, w, h) {
    canvas.width = w;
    canvas.height = h;
    canvas.style.left = left + 'px';
    canvas.style.top = top + 'px';
}

panels.forEach(p => {
    const cells = [];
    xPlusRows.forEach((xp, i) => {
        yPlusCols.forEach((yp, j) => {
            cells.push({ x: yp, y: xp, v: p.grid[i][j] });
        });
    });

    const heatCanvas = document.getElementById(p.heat);
    place(heatCanvas, p.L - 75, p.T - 20, 75 + (p.R - p.L) + 20, 20 + (p.B - p.T) + 50);
    new Chart(heatCanvas, {
        type: 'scatter',
        data: { datasets: [{ data: cells, pointRadius: 0 }] },
        options: {
            responsive: false,
            animation: false,
            devicePixelRatio: 1,
            events: [],
            layout: { padding: { left: 0, top: 20, right: 20, bottom: 0 } },
            plugins: {
                legend: { display: false },
                tooltip: { enabled: false },
                heat: { cellW: yPlusCols[1] - yPlusCols[0], cellH: xPlusRows[1] - xPlusRows[0], lo: p.lo, hi: p.hi }
            },
            scales: {
                x: {
                    type: 'linear',
                    min: yPlusRange[0],
                    max: yPlusRange[1],
                    grid: { display: false, drawTicks: false },
                    border: { display: false },
                    afterFit: s => { s.height = 50; },
                    afterBuildTicks: s => { s.ticks = yPlusTicks.map(v => ({ value: v })); },
                    ticks: { font: TICK_FONT, color: INK, padding: 5, maxRotation: 0, autoSkip: false, callback: v => String(v) }
                },
                y: {
                    type: 'linear',
                    reverse: true,
                    min: xPlusRange[0],
                    max: xPlusRange[1],
                    grid: { display: false, drawTicks: false },
                    border: { display: false },
                    afterFit: s => { s.width = 75; },
                    afterBuildTicks: s => { s.ticks = xPlusTicks.map(v => ({ value: v })); },
                    ticks: { font: TICK_FONT, color: INK, padding: 5, autoSkip: false, callback: v => String(v) }
                }
            }
        },
        plugins: [heatPlugin]
    });

    const barCanvas = document.getElementById(p.bar);
    place(barCanvas, p.cL - 10, p.T - 40, 10 + (p.cR - p.cL) + 60, 40 + (p.B - p.T) + 20);
    new Chart(barCanvas, {
        type: 'scatter',
        data: { datasets: [{ data: [], pointRadius: 0 }] },
        options: {
            responsive: false,
            animation: false,
            devicePixelRatio: 1,
            events: [],
            layout: { padding: { left: 10, top: 40, right: 0, bottom: 20 } },
            plugins: {
                legend: { display: false },
                tooltip: { enabled: false },
                cbar: { lo: p.lo, hi: p.hi, ticks: p.ticks, title: p.title }
            },
            scales: {
                x: { display: false, min: 0, max: 1 },
                y: {
                    type: 'linear',
                    position: 'right',
                    min: p.lo,
                    max: p.hi,
                    grid: { display: false, drawTicks: false },
                    border: { display: false },
                    afterFit: s => { s.width = 60; },
                    afterBuildTicks: s => { s.ticks = p.ticks.map(v => ({ value: v })); },
                    ticks: { font: TICK_FONT, color: INK, padding: 7, autoSkip: false, callback: v => Number(v).toFixed(p.dec) }
                }
            }
        },
        plugins: [barPlugin]
    });
});
</script>
</body>
</html>
